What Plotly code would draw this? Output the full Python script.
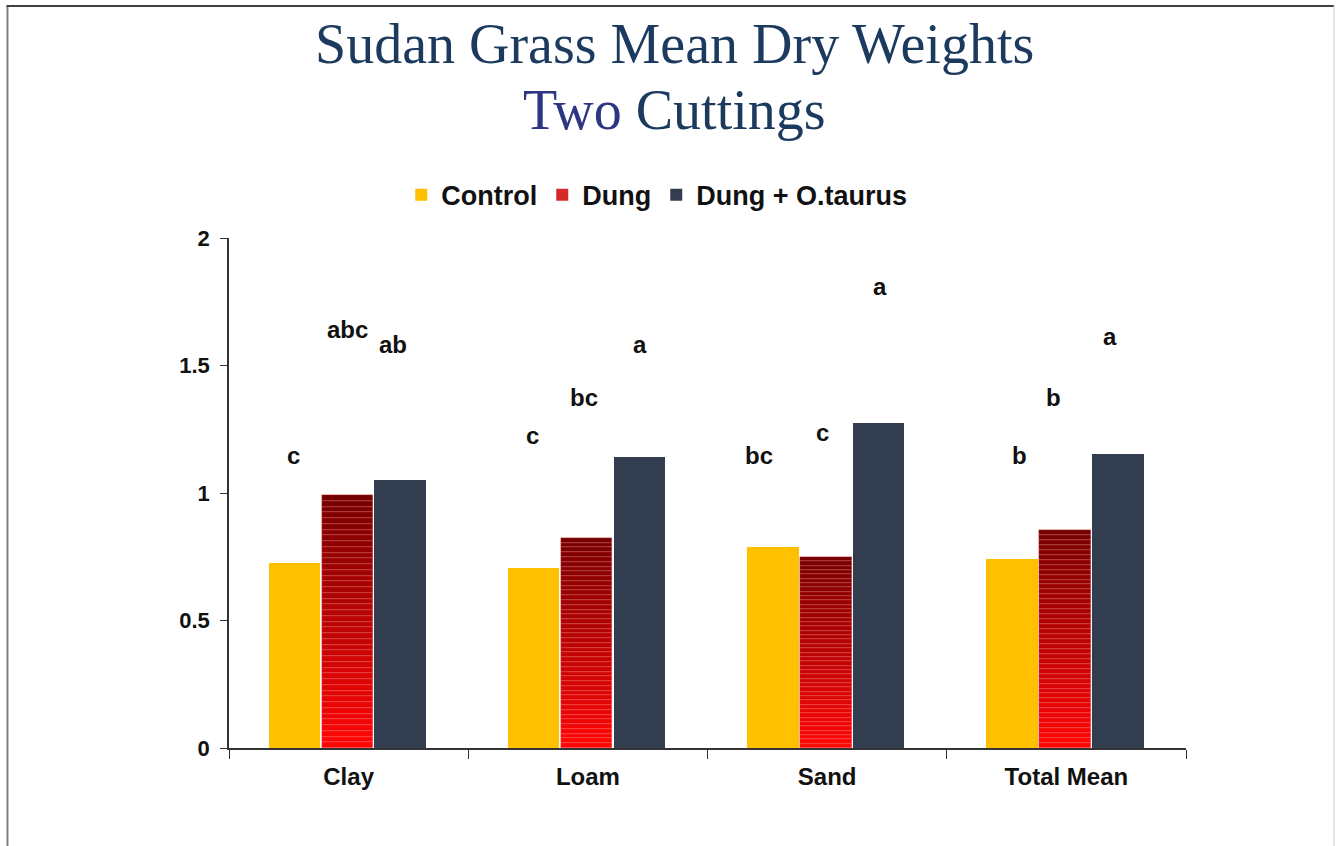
import plotly.graph_objects as go

# Mean dry weights per soil type and treatment
categories = ["Clay", "Loam", "Sand", "Total Mean"]
control = [0.725, 0.706, 0.788, 0.741]
dung = [0.992, 0.824, 0.749, 0.855]
dung_taurus = [1.051, 1.141, 1.275, 1.153]

# Significance letters (one per bar) and the height they sit at
letters = [["c", "abc", "ab"], ["c", "bc", "a"], ["bc", "c", "a"], ["b", "b", "a"]]
letter_y = [[1.149, 1.64, 1.584], [1.224, 1.376, 1.584], [1.149, 1.239, 1.808], [1.149, 1.376, 1.612]]
letter_dx = [[-55, -1, 44], [-55, -4, 52], [-68, -5, 53], [-47, -13, 44]]

BAR_W = 0.215
OFFSETS = [-0.334, -0.113, 0.108]
GOLD = "#FFC000"
SLATE = "#323E4F"
SANS = "Liberation Sans"
SERIF = "Liberation Serif"

fig = go.Figure()

fig.add_trace(go.Bar(
    x=categories, y=control, name="Control",
    width=BAR_W, offset=OFFSETS[0],
    marker=dict(color=GOLD, line=dict(width=0)),
))

# Dung bars: drawn as thin stacked slices shading from bright red at the base
# to dark maroon at the top
N_SLICES = 44
def lerp(a, b, t):
    return int(round(a + (b - a) * t))

for k in range(N_SLICES):
    t = k / (N_SLICES - 1)
    col = f"rgb({lerp(255, 118, t)},{lerp(6, 0, t)},{lerp(6, 0, t)})"
    fig.add_trace(go.Bar(
        x=categories,
        y=[v / N_SLICES for v in dung],
        base=[v * k / N_SLICES for v in dung],
        name="Dung",
        width=BAR_W, offset=OFFSETS[1],
        marker=dict(color=col, line=dict(width=0.5, color="rgba(255,120,120,0.45)")),
        showlegend=False,
        legendgroup="dung",
    ))

# legend entry for the dung series
fig.add_trace(go.Bar(
    x=categories, y=[0, 0, 0, 0], name="Dung",
    width=BAR_W, offset=OFFSETS[1],
    marker=dict(color="#D42A2A", line=dict(width=0)),
    legendgroup="dung", hoverinfo="skip",
))

fig.add_trace(go.Bar(
    x=categories, y=dung_taurus, name="Dung + O.taurus",
    width=BAR_W, offset=OFFSETS[2],
    marker=dict(color=SLATE, line=dict(width=0)),
))

annotations = []
for i, cat in enumerate(categories):
    for j in range(3):
        annotations.append(dict(
            x=i, y=letter_y[i][j], xref="x", yref="y",
            text=letters[i][j], showarrow=False,
            xshift=letter_dx[i][j],
            font=dict(family=SANS, size=24, color="#111111", weight="bold"),
        ))

# two-line chart title
annotations.append(dict(
    x=0.466, y=1.3805, xref="paper", yref="paper", xanchor="center", yanchor="middle",
    text="Sudan Grass Mean Dry Weights", showarrow=False,
    font=dict(family=SERIF, size=56, color="#1B3A5E"),
))
annotations.append(dict(
    x=0.466, y=1.251, xref="paper", yref="paper", xanchor="center", yanchor="middle",
    text="<span style='color:#2C3683'>Two</span> Cuttings", showarrow=False,
    font=dict(family=SERIF, size=56, color="#1B3A5E"),
))

# frame around the chart (left, top, right edges)
frame = [
    dict(type="line", xref="paper", yref="paper", x0=-0.2315, x1=-0.2315, y0=1.455, y1=-0.4,
         line=dict(color="#7F7F7F", width=2)),
    dict(type="line", xref="paper", yref="paper", x0=-0.2325, x1=1.1546, y0=1.455, y1=1.455,
         line=dict(color="#404040", width=2)),
    dict(type="line", xref="paper", yref="paper", x0=1.1546, x1=1.1546, y0=1.455, y1=-0.4,
         line=dict(color="#C8C8C8", width=1)),
]

fig.update_layout(
    width=1336, height=846,
    margin=dict(l=229, r=150, t=238, b=98),
    paper_bgcolor="white", plot_bgcolor="white",
    barmode="overlay",
    legend=dict(
        orientation="h", x=0.447, xanchor="center", y=1.084, yanchor="middle",
        font=dict(family=SANS, size=27, color="#111111", weight="bold"),
        itemwidth=30, traceorder="normal",
    ),
    xaxis=dict(
        type="category", showline=True, linecolor="#333333", linewidth=1.5,
        ticks="outside", tickson="boundaries", ticklen=9, tickcolor="#333333",
        tickfont=dict(family=SANS, size=24, color="#111111", weight="bold"),
        ticklabelstandoff=6,
        showgrid=False, zeroline=False,
    ),
    yaxis=dict(
        range=[0, 2], tickvals=[0, 0.5, 1, 1.5, 2], ticktext=["0", "0.5", "1", "1.5", "2"],
        showline=True, linecolor="#333333", linewidth=1.5,
        ticks="outside", ticklen=7, tickcolor="#333333",
        tickfont=dict(family=SANS, size=22, color="#111111", weight="bold"),
        ticklabelstandoff=6,
        showgrid=False, zeroline=False,
    ),
    annotations=annotations,
    shapes=frame,
    bargap=0,
)

fig.write_html("out.html")
